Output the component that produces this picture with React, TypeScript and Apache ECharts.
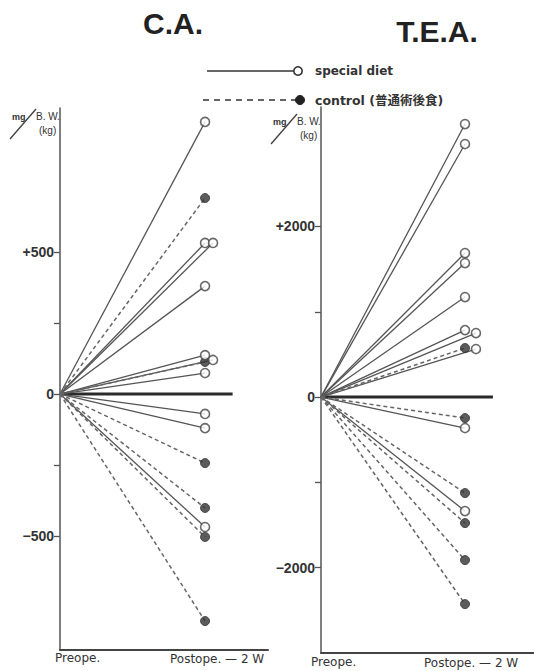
import React, { useEffect, useRef } from "react";
import * as echarts from "echarts";

// Change from the preoperative level, mg / B.W.(kg)
const periodLabels = ["Preope.", "Postope. — 2 W"];
const panelTitles = ["C.A.", "T.E.A."];
const legendLabels = ["special diet", "control (普通術後食)"];

// C.A.
const caSpecial = [958, 532, 532, 380, 137, 120, 74, -70, -120, -468];
const caSpecialSide = [0, 0, 1, 0, 0, 1, 0, 0, 0, 0];
const caControl = [690, 113, -243, -401, -503, -799];
const caControlSide = [0, 0, 0, 0, 0, 0];
const caTicks = [500, 250, 0, -250, -500];
const caLabeled = [500, 0, -500];

// T.E.A.
const teaSpecial = [3200, 2966, 1688, 1571, 1172, 785, 750, 563, -363, -1336];
const teaSpecialSide = [0, 0, 0, 0, 0, 0, 1, 1, 0, 0];
const teaControl = [575, -246, -1125, -1477, -1911, -2427];
const teaControlSide = [0, 0, 0, 0, 0, 0];
const teaTicks = [2000, 1000, 0, -1000, -2000];
const teaLabeled = [2000, 0, -2000];

const INK = "#333";
const LINE = "#555";
const FONT = "'Liberation Sans', 'DejaVu Sans', sans-serif";
const WIDE = "'DejaVu Sans', 'Noto Sans CJK JP', sans-serif";

function fmtTick(v: number) {
  if (v > 0) return "+" + v;
  if (v < 0) return "−" + Math.abs(v);
  return "0";
}

function panelSeries(
  special: number[],
  specialSide: number[],
  control: number[],
  controlSide: number[],
  shift: number,
  zeroEnd: number,
  idx: number
) {
  const out: any[] = [];
  const px = (side: number) => 1 + side * shift;
  // baseline at zero
  out.push({
    type: "line",
    xAxisIndex: idx,
    yAxisIndex: idx,
    data: [
      [0, 0],
      [zeroEnd, 0],
    ],
    symbol: "none",
    silent: true,
    lineStyle: { color: "#2a2a2a", width: 3 },
    z: 1,
  });
  special.forEach((v, i) => {
    out.push({
      type: "line",
      xAxisIndex: idx,
      yAxisIndex: idx,
      data: [
        [0, 0],
        [px(specialSide[i]), v],
      ],
      symbol: "none",
      silent: true,
      lineStyle: { color: LINE, width: 1.3, type: "solid" },
      z: 2,
    });
  });
  control.forEach((v, i) => {
    out.push({
      type: "line",
      xAxisIndex: idx,
      yAxisIndex: idx,
      data: [
        [0, 0],
        [px(controlSide[i]), v],
      ],
      symbol: "none",
      silent: true,
      lineStyle: { color: "#666", width: 1.5, type: [4, 3] },
      z: 2,
    });
  });
  out.push({
    type: "scatter",
    xAxisIndex: idx,
    yAxisIndex: idx,
    data: control.map((v, i) => [px(controlSide[i]), v]),
    symbol: "circle",
    symbolSize: 9,
    itemStyle: { color: "#333", borderColor: "#333", borderWidth: 1 },
    z: 4,
  });
  out.push({
    type: "scatter",
    xAxisIndex: idx,
    yAxisIndex: idx,
    data: special.map((v, i) => [px(specialSide[i]), v]),
    symbol: "circle",
    symbolSize: 9,
    itemStyle: { color: "#fff", borderColor: "#444", borderWidth: 1.6 },
    z: 5,
  });
  return out;
}

function yAxisFor(idx: number, min: number, max: number, ticks: number[], labeled: number[]) {
  return {
    type: "value",
    gridIndex: idx,
    min,
    max,
    axisLine: { show: true, onZero: false, lineStyle: { color: "#555", width: 1.5 } },
    axisTick: { show: true, length: 6, customValues: ticks, lineStyle: { color: "#555", width: 1.3 } },
    axisLabel: {
      show: true,
      customValues: labeled,
      formatter: (v: number) => fmtTick(v),
      margin: 6,
      color: INK,
      fontSize: 14,
      fontWeight: "bold",
      fontFamily: FONT,
    },
    splitLine: { show: false },
  };
}

function xAxisFor(idx: number, max: number) {
  return {
    type: "value",
    gridIndex: idx,
    min: 0,
    max,
    axisLine: { show: true, onZero: false, lineStyle: { color: "#444", width: 2 } },
    axisTick: { show: false },
    axisLabel: { show: false },
    splitLine: { show: false },
  };
}

function txt(x: number, y: number, text: string, size: number, opts: any = {}) {
  return {
    type: "text",
    x,
    y,
    silent: true,
    style: {
      text,
      fill: opts.fill || INK,
      font: `${opts.weight || "bold"} ${size}px ${opts.family || FONT}`,
      textAlign: opts.align || "left",
      textVerticalAlign: "middle",
      align: opts.align || "left",
      verticalAlign: "middle",
    },
  };
}

function unitsMark(x: number, y: number) {
  return [
    txt(x + 2, y + 1, "mg", 9),
    {
      type: "line",
      silent: true,
      shape: { x1: x, y1: y + 23, x2: x + 26, y2: y - 7 },
      style: { stroke: "#444", lineWidth: 1.4 },
    },
    txt(x + 26, y, "B. W.", 10, { weight: "normal" }),
    txt(x + 29, y + 14, "(kg)", 10, { weight: "normal" }),
  ];
}

export default function App() {
  const ref = useRef<HTMLDivElement>(null);

  useEffect(() => {
    if (!ref.current) return;
    const chart = echarts.init(ref.current, null, { renderer: "svg" });

    const graphics: any[] = [
      // panel titles
      txt(173, 23, panelTitles[0], 30, { align: "center", fill: "#222" }),
      txt(437, 31, panelTitles[1], 30, { align: "center", fill: "#222" }),
      // legend
      {
        type: "line",
        silent: true,
        shape: { x1: 207, y1: 71, x2: 294, y2: 71 },
        style: { stroke: "#333", lineWidth: 1.3 },
      },
      {
        type: "circle",
        silent: true,
        shape: { cx: 298, cy: 71, r: 4.2 },
        style: { fill: "#fff", stroke: "#333", lineWidth: 1.6 },
      },
      txt(315, 71, legendLabels[0], 12, { family: WIDE }),
      {
        type: "line",
        silent: true,
        shape: { x1: 203, y1: 100, x2: 296, y2: 100 },
        style: { stroke: "#333", lineWidth: 1.6, lineDash: [6, 5] },
      },
      {
        type: "circle",
        silent: true,
        shape: { cx: 300, cy: 100, r: 4.5 },
        style: { fill: "#222", stroke: "#222", lineWidth: 1 },
      },
      txt(315, 100, legendLabels[1], 12.5, { family: WIDE }),
      // units
      ...unitsMark(10, 116),
      ...unitsMark(271, 121),
      // period labels
      txt(55, 658, periodLabels[0], 12, { family: WIDE, weight: "normal" }),
      txt(170, 659, periodLabels[1], 12, { family: WIDE, weight: "normal" }),
      txt(311, 662, periodLabels[0], 12, { family: WIDE, weight: "normal" }),
      txt(424, 663, periodLabels[1], 12, { family: WIDE, weight: "normal" }),
    ];

    chart.setOption({
      animation: false,
      backgroundColor: "#fff",
      grid: [
        { left: 60, top: 108, width: 208, height: 542 },
        { left: 321, top: 107, width: 213, height: 546 },
      ],
      xAxis: [xAxisFor(0, 1.434), xAxisFor(1, 1.479)],
      yAxis: [
        yAxisFor(0, -901, 1007, caTicks, caLabeled),
        yAxisFor(1, -3000, 3400, teaTicks, teaLabeled),
      ],
      series: [
        ...panelSeries(caSpecial, caSpecialSide, caControl, caControlSide, 0.055, 1.19, 0),
        ...panelSeries(teaSpecial, teaSpecialSide, teaControl, teaControlSide, 0.076, 1.194, 1),
      ],
      graphic: graphics,
    });

    return () => chart.dispose();
  }, []);

  return (
    <div
      ref={ref}
      style={{ position: "absolute", left: 0, top: 0, width: 534, height: 671, background: "#fff" }}
    />
  );
}
